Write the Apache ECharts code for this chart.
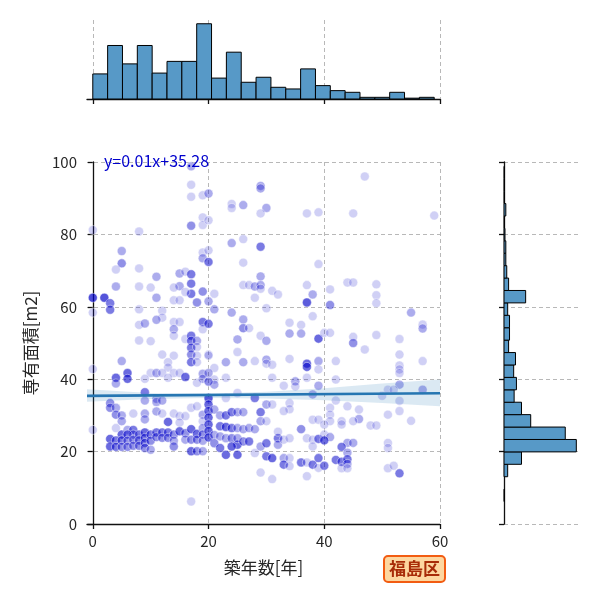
<!DOCTYPE html>
<html>
<head>
<meta charset="utf-8">
<script src="https://cdn.jsdelivr.net/npm/echarts@6/dist/echarts.min.js"></script>
<style>
  html, body { margin: 0; padding: 0; background: #fff; }
  #chart { width: 600px; height: 600px; }
</style>
</head>
<body>
<div id="chart"></div>
<script>
// 築年数 vs 専有面積 (福島区) -- [年, m2, 重なり数]
var points = [
  // 左上
  [17,98.8,2],[17,93.7,1],[17,90.4,1],[19,90.8,1],[19,84.7,1],[19,82.6,1],[17,82.4,3],[0,81.2,1],[8,80.8,1],
  [5,75.4,2],[5,72.0,3],[4,70.3,1],[8,70.6,1],[11,68.3,2],[19,75.0,1],[19,73.4,2],[20,72.3,1],[15,69.2,2],
  [16,69.7,1],[17,69.0,4],[17,66.4,4],[17,63.6,4],[19,64.2,3],[15,65.7,2],[14,65.3,1],[16,64.1,1],[14,61.8,1],
  [15,61.8,1],[18,61.2,3],[4,65.6,2],[8,65.6,1],[10,65.3,1],[11,62.5,2],[0,62.5,8],[2,62.5,7],[3,61.0,4],
  [3,59.2,4],[0,58.4,1],[8,59.3,1],[12,58.9,1],[12,57.0,1],[8,55.0,1],[9,55.4,2],[11,56.4,2],[14,55.8,1],
  [14,53.8,2],[15,55.8,1],[14,52.0,1],[16,51.1,1],[17,52.0,4],[17,50.6,4],[18,50.6,2],[19,55.8,4],[19,53.8,1],
  [8,50.7,1],[10,50.5,1],
  // 中央上
  [20,91.3,2],[20,83.9,1],[24,88.4,1],[24,87.3,1],[26,88.1,2],[29,93.4,2],[29,92.7,2],[30,87.3,2],[29,85.8,1],
  [37,85.8,1],[39,86.1,1],[24,77.6,2],[26,78.7,1],[29,76.6,4],[20,75.6,1],[20,72.4,3],[26,72.2,1],[39,71.8,1],
  [29,68.4,2],[26,66.0,1],[27,66.0,1],[28,65.6,2],[29,66.0,2],[29,65.0,1],[31,64.4,1],[32,63.4,1],[28,62.5,1],
  [37,66.0,1],[38,63.4,2],[37,61.2,6],[21,63.6,1],[20,61.5,2],[21,59.3,2],[30,59.6,1],[24,58.4,2],[38,57.4,1],
  [20,55.3,4],[26,56.5,2],[26,54.1,3],[27,54.1,1],[34,55.6,1],[34,52.6,2],[36,55.0,1],[36,52.6,2],[39,51.2,5],
  [40,52.8,1],[25,51.0,2],[29,52.0,1],[30,50.6,2],
  // 右上
  [47,96.0,1],[45,85.8,1],[59,85.2,1],[44,66.7,1],[45,66.7,1],[41,64.8,1],[49,66.2,1],[49,63.2,1],[49,61.0,1],
  [41,60.5,3],[55,58.4,2],[57,55.1,1],[57,54.0,2],[41,52.8,1],[45,51.7,1],[45,50.0,3],[49,52.2,1],[53,51.1,1],
  // 左下
  [17,48.7,4],[18,48.9,1],[12,46.8,1],[14,46.5,1],[17,46.8,3],[18,46.5,1],[20,46.8,1],[5,45.0,2],[17,44.7,4],
  [18,44.7,1],[13,44.7,1],[13,43.2,1],[0,42.8,1],[6,41.7,5],[6,40.1,5],[4,40.4,5],[4,38.8,2],[10,41.7,1],
  [11,41.7,2],[12,41.7,1],[14,41.7,1],[15,41.7,1],[16,40.6,5],[19,41.5,2],[19,40.1,2],[9,40.1,1],[13,40.4,1],
  [20,39.4,1],[18,39.0,1],[9,36.4,4],[9,34.1,2],[11,34.6,2],[11,33.7,2],[12,34.1,2],[3,33.4,3],[3,32.1,3],
  [4,32.1,2],[4,30.2,3],[5,30.0,2],[5,28.4,2],[7,30.5,1],[9,30.5,2],[9,28.9,2],[11,31.1,2],[12,30.5,1],
  [13,28.2,5],[14,30.5,1],[15,29.8,1],[15,28.0,1],[16,29.8,1],[17,32.1,1],[18,32.5,1],[19,30.2,2],[19,28.4,1],
  [20,34.4,1],[0,26.0,1],[4,26.5,1],[5,24.7,5],[6,26.0,2],[7,26.0,4],[7,24.7,3],[3,23.5,5],[3,21.4,5],
  [4,23.1,4],[4,21.3,4],[5,23.1,4],[5,21.3,3],[6,24.7,4],[6,23.0,3],[6,21.3,3],[7,23.3,3],[7,21.6,3],
  [8,24.7,4],[8,23.1,4],[8,21.6,3],[9,25.3,5],[9,23.8,4],[9,22.4,4],[9,21.0,3],[10,24.7,4],[10,23.0,3],
  [10,20.5,2],[11,25.3,4],[11,24.0,3],[12,25.3,4],[12,23.8,3],[13,25.3,4],[13,23.8,3],[14,24.7,3],
  [14,23.0,2],[14,21.4,3],[15,25.6,5],[16,25.1,3],[16,23.3,2],[17,26.2,5],[17,23.3,3],[17,20.1,5],[18,24.9,5],
  [18,23.3,3],[18,20.1,3],[19,26.5,2],[19,24.7,3],[19,23.0,2],[19,20.1,2],[17,6.2,1],
  // 中央下
  [20,46.5,1],[25,47.5,1],[23,44.7,2],[26,44.7,2],[28,45.0,1],[30,45.4,2],[30,44.3,1],[31,44.0,1],[34,45.6,1],
  [37,44.3,5],[37,43.4,5],[39,45.0,2],[21,43.1,1],[23,40.4,1],[21,39.9,1],[21,38.5,2],[20,41.7,2],[20,39.3,2],
  [31,40.4,1],[33,38.2,1],[35,39.4,2],[35,38.0,1],[37,40.4,1],[39,38.2,2],[39,42.7,1],
  [20,34.8,5],[20,33.0,5],[20,31.2,5],[20,29.4,5],[20,27.5,5],[20,25.7,5],[20,23.9,5],[28,34.8,4],[23,34.8,1],
  [25,36.2,1],[30,33.0,2],[31,33.0,1],[34,33.4,1],[34,31.7,1],[38,35.8,2],[33,31.2,1],[21,31.6,2],[22,30.0,2],
  [23,30.0,4],[24,30.9,4],[25,30.9,2],[26,30.9,2],[29,30.9,4],[29,28.4,2],[30,28.4,1],[22,27.0,4],[23,26.8,5],
  [24,26.5,4],[25,26.5,2],[26,26.2,2],[27,26.5,2],[28,26.2,2],[21,24.6,2],[22,24.2,2],[23,23.7,2],[24,23.7,3],
  [25,21.9,5],[25,23.7,2],[24,21.4,5],[26,22.8,3],[27,22.8,4],[21,22.3,3],[22,21.0,4],[23,19.1,5],[25,19.1,5],
  [28,19.6,1],[29,21.4,2],[30,22.3,4],[30,18.7,4],[31,18.2,5],[32,23.7,4],[32,21.9,2],[33,23.3,1],[34,23.7,1],
  [33,18.2,2],[33,16.4,4],[34,18.2,1],[34,16.0,1],[29,14.2,1],[31,12.4,1],[32,25.5,1],[36,26.2,3],[37,23.7,1],
  [38,23.3,1],[38,21.4,1],[39,23.5,4],[36,17.0,4],[37,17.0,1],[38,16.4,4],[39,18.2,4],[37,13.2,1],[39,15.5,1],
  [38,28.8,1],[39,28.8,1],[40,16.1,4],
  // 右下
  [47,48.2,1],[42,45.0,1],[53,46.8,1],[53,43.8,1],[53,42.7,1],[53,41.7,1],[57,45.0,1],[42,39.9,1],[53,38.5,2],
  [51,37.1,1],[52,37.1,1],[57,37.1,2],[50,35.4,1],[42,34.1,1],[53,34.0,1],[41,32.1,1],[44,32.5,1],[46,31.6,1],
  [46,29.0,2],[41,30.2,1],[41,28.4,1],[43,28.4,1],[43,27.5,1],[45,28.4,1],[51,30.2,1],[53,31.2,1],[55,28.5,1],
  [48,27.2,1],[49,27.2,1],[40,27.5,1],[40,24.7,1],[41,24.0,2],[40,23.1,5],[44,22.4,2],[45,22.4,2],[43,21.3,4],
  [44,19.7,2],[42,17.7,4],[43,17.2,4],[44,17.9,4],[44,16.6,2],[43,15.4,1],[44,15.4,1],[51,22.4,1],[51,21.0,1],
  [51,15.4,1],[52,16.1,1],[53,14.0,4]
];

// 回帰直線と信頼区間
var regLine = [[-1, 35.4], [60, 36.1]];
var ciX    = [-1, 10, 20, 30, 40, 50, 60];
var ciLow  = [33.8, 34.5, 34.8, 34.7, 34.2, 33.4, 32.5];
var ciHigh = [37.2, 36.2, 36.0, 36.5, 37.5, 38.8, 39.9];

// 上のヒストグラム (築年数)
var ageBinStart = 0;
var ageBinWidth = 59 / 23;
var ageCounts = [30, 64, 42, 64, 31, 45, 45, 90, 25, 56, 20, 26, 14, 12, 36, 16, 10, 8, 2, 2, 8, 1, 2];

// 右のヒストグラム (専有面積)
var areaBinStart = 6.2;
var areaBinWidth = 3.43;
var areaCounts = [1, 0, 8, 38, 157, 133, 58, 38, 22, 27, 21, 25, 10, 12, 12, 8, 47, 10, 6, 4, 4, 2, 1, 4, 1, 1, 1];

var xTicks = [0, 20, 40, 60];
var eqText = 'y=0.01x+35.28';
var wardName = '福島区';

var FONT = '"Noto Sans CJK JP", "Noto Sans", sans-serif';
var INK = '#262626';
var gridLine = { show: true, lineStyle: { color: '#b0b0b0', type: [4, 3], width: 0.9 } };

var ageBins = ageCounts.map(function (c, i) {
  return [ageBinStart + i * ageBinWidth, ageBinStart + (i + 1) * ageBinWidth, c];
});
var areaBins = areaCounts.map(function (c, i) {
  return [areaBinStart + i * areaBinWidth, areaBinStart + (i + 1) * areaBinWidth, c];
});
var ciData = ciX.map(function (x, i) { return [x, ciLow[i], ciHigh[i]]; });

function histRenderer(horizontal) {
  return function (params, api) {
    var lo = api.value(0), hi = api.value(1), c = api.value(2);
    if (!c) return;
    var p0, p1;
    if (horizontal) {
      p0 = api.coord([0, hi]);
      p1 = api.coord([c, lo]);
    } else {
      p0 = api.coord([lo, c]);
      p1 = api.coord([hi, 0]);
    }
    return {
      type: 'rect',
      shape: {
        x: Math.min(p0[0], p1[0]), y: Math.min(p0[1], p1[1]),
        width: Math.abs(p1[0] - p0[0]), height: Math.abs(p1[1] - p0[1])
      },
      style: { fill: '#5799c7', stroke: '#000', lineWidth: 1 }
    };
  };
}

var myChart = echarts.init(document.getElementById('chart'));

myChart.setOption({
  animation: false,
  textStyle: { fontFamily: FONT },
  grid: [
    { left: 87, right: 160, top: 162, bottom: 76 },
    { left: 87, right: 160, top: 20, height: 79 },
    { left: 504, right: 20, top: 162, bottom: 76 }
  ],
  xAxis: [
    {
      gridIndex: 0, type: 'value', min: -1, max: 60,
      name: '築年数[年]', nameLocation: 'middle', nameGap: 35,
      nameTextStyle: { fontSize: 17, color: INK, fontFamily: FONT },
      axisLine: { show: true, lineStyle: { color: '#111', width: 1.3 } },
      axisTick: { show: true, customValues: xTicks, length: 5, lineStyle: { color: '#111', width: 1.3 } },
      axisLabel: { customValues: xTicks, fontSize: 15, color: INK, margin: 10, fontFamily: FONT },
      splitLine: gridLine
    },
    {
      gridIndex: 1, type: 'value', min: -1, max: 60,
      axisLine: { show: true, lineStyle: { color: '#111', width: 1.3 } },
      axisTick: { show: true, customValues: xTicks, length: 5, lineStyle: { color: '#111', width: 1.3 } },
      axisLabel: { show: false, customValues: xTicks },
      splitLine: gridLine
    },
    {
      gridIndex: 2, type: 'value', min: 0, max: 165, show: false
    }
  ],
  yAxis: [
    {
      gridIndex: 0, type: 'value', min: 0, max: 100, interval: 20,
      name: '専有面積[m2]', nameLocation: 'middle', nameGap: 48,
      nameTextStyle: { fontSize: 17, color: INK, fontFamily: FONT },
      axisLine: { show: true, lineStyle: { color: '#111', width: 1.3 } },
      axisTick: { show: true, length: 5, lineStyle: { color: '#111', width: 1.3 } },
      axisLabel: { fontSize: 15, color: INK, margin: 10, fontFamily: FONT },
      splitLine: gridLine
    },
    {
      gridIndex: 1, type: 'value', min: 0, max: 94.5, show: false
    },
    {
      gridIndex: 2, type: 'value', min: 0, max: 100, interval: 20,
      axisLine: { show: true, lineStyle: { color: '#111', width: 1.3 } },
      axisTick: { show: true, length: 5, lineStyle: { color: '#111', width: 1.3 } },
      axisLabel: { show: false },
      splitLine: gridLine
    }
  ],
  series: [
    {
      type: 'scatter', xAxisIndex: 0, yAxisIndex: 0,
      data: points, symbolSize: 9, clip: false, z: 2,
      itemStyle: {
        color: function (p) {
          var a = 1 - Math.pow(0.77, p.value[2]);
          return 'rgba(0,0,200,' + a.toFixed(3) + ')';
        },
        borderColor: 'rgba(255,255,255,0.7)', borderWidth: 0.8
      },
      emphasis: { disabled: true }
    },
    {
      type: 'custom', xAxisIndex: 0, yAxisIndex: 0, z: 3,
      data: ciData,
      renderItem: function (params, api) {
        var i = params.dataIndex;
        if (i >= ciData.length - 1) return;
        var a = ciData[i], b = ciData[i + 1];
        return {
          type: 'polygon',
          shape: { points: [api.coord([a[0], a[2]]), api.coord([b[0], b[2]]), api.coord([b[0], b[1]]), api.coord([a[0], a[1]])] },
          style: { fill: 'rgba(31,119,180,0.16)' }
        };
      }
    },
    {
      type: 'line', xAxisIndex: 0, yAxisIndex: 0, z: 4,
      data: regLine, showSymbol: false, symbol: 'none',
      lineStyle: { color: '#2676b2', width: 2.6 }
    },
    {
      type: 'custom', xAxisIndex: 1, yAxisIndex: 1,
      data: ageBins, renderItem: histRenderer(false)
    },
    {
      type: 'custom', xAxisIndex: 2, yAxisIndex: 2,
      data: areaBins, renderItem: histRenderer(true)
    }
  ],
  graphic: [
    {
      type: 'text', left: 104, top: 153, z: 10,
      style: { text: eqText, fill: '#0000cd', fontSize: 16, fontFamily: FONT }
    },
    {
      type: 'group', left: 383, top: 555, z: 10,
      children: [
        {
          type: 'rect', shape: { x: 0, y: 0, width: 61, height: 26, r: 4 },
          style: { fill: '#fdd7a0', stroke: '#f25c12', lineWidth: 2 }
        },
        {
          type: 'text', x: 30.5, y: 13,
          style: { text: wardName, fill: '#a82c08', fontSize: 17, fontWeight: 'bold', fontFamily: FONT, align: 'center', verticalAlign: 'middle' }
        }
      ]
    }
  ]
});
</script>
</body>
</html>
